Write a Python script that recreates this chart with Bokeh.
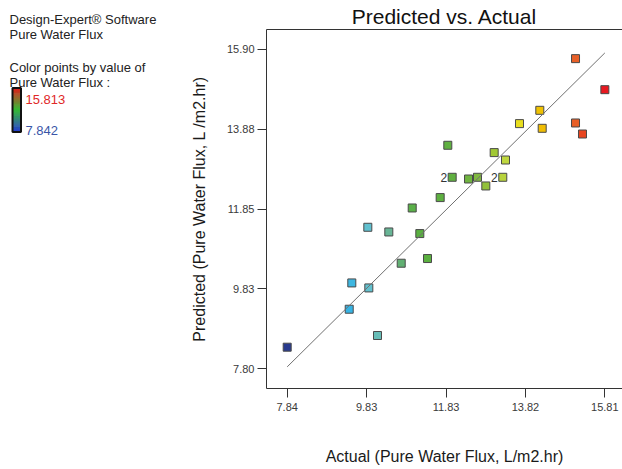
import numpy as np
from bokeh.plotting import figure
from bokeh.models import (Range1d, LinearAxis, FixedTicker, Title,
                          LinearColorMapper, ColumnDataSource)
from bokeh.layouts import row
from bokeh.embed import file_html
from bokeh.resources import INLINE
from bokeh.core.properties import value

# ---------------- data ----------------
actual = [15.077, 15.813, 14.181, 13.671, 14.241, 15.077, 15.252, 11.872,
          13.036, 13.320, 11.982, 12.392, 12.617, 13.252, 12.826, 11.681,
          10.979, 9.865, 10.392, 11.170, 11.363, 10.703, 9.463, 9.890,
          9.398, 10.108, 7.842]
predicted = [15.668, 14.880, 14.356, 14.018, 13.899, 14.034, 13.754, 13.468,
             13.282, 13.094, 12.655, 12.612, 12.655, 12.655, 12.435, 12.140,
             11.876, 11.386, 11.267, 11.226, 10.592, 10.473, 9.973, 9.846,
             9.305, 8.638, 8.341]
point_counts = [1, 1, 1, 1, 1, 1, 1, 1, 1, 1, 2, 1, 1, 2, 1, 1,
                1, 1, 1, 1, 1, 1, 1, 1, 1, 1, 1]

flux_min = 7.842
flux_max = 15.813

x_ticks = [7.842, 9.83475, 11.8275, 13.82025, 15.813]
x_tick_labels = ["7.84", "9.83", "11.83", "13.82", "15.81"]
y_ticks = [7.80, 9.825, 11.85, 13.875, 15.90]
y_tick_labels = ["7.80", "9.83", "11.85", "13.88", "15.90"]

title_text = "Predicted vs. Actual"
x_label = "Actual (Pure Water Flux, L/m2.hr)"
y_label = "Predicted (Pure Water Flux, L /m2.hr)"
legend_lines = ["Design-Expert\u00ae Software", "Pure Water Flux",
                "Color points by value of", "Pure Water Flux :"]
legend_high = "15.813"
legend_low = "7.842"

FONT = "Liberation Sans"


# ---------------- helpers ----------------
def hex2rgb(h):
    h = h.lstrip("#")
    return np.array([int(h[i:i + 2], 16) for i in (0, 2, 4)], dtype=float)


def interp_palette(stops, n):
    pos = np.array([s[0] for s in stops])
    cols = np.array([hex2rgb(s[1]) for s in stops])
    out = []
    for t in np.linspace(0, 1, n):
        rgb = [np.interp(t, pos, cols[:, k]) for k in range(3)]
        out.append("#%02x%02x%02x" % tuple(int(round(c)) for c in rgb))
    return out


point_palette = interp_palette([
    (0.00, "#283a8e"), (0.19, "#34b4e6"), (0.26, "#66c2cc"),
    (0.32, "#68b494"), (0.36, "#60b070"), (0.40, "#58b040"),
    (0.55, "#62b040"), (0.60, "#80b840"), (0.65, "#a0c834"),
    (0.69, "#c2d840"), (0.73, "#e8e020"), (0.80, "#f0c000"),
    (0.82, "#f0b010"), (0.91, "#e86028"), (0.93, "#e84420"),
    (1.00, "#e81820")], 256)

# ---------------- main plot ----------------
p = figure(width=442, height=469, output_backend="svg", toolbar_location=None,
           x_range=Range1d(7.3225, 16.256), y_range=Range1d(7.2924, 16.4076),
           min_border_left=86, min_border_right=0, min_border_top=29,
           min_border_bottom=81, title=None)
p.frame_align = False
p.outline_line_color = None
p.grid.visible = False
p.background_fill_color = "white"
p.border_fill_color = "white"

for ax in (p.xaxis[0], p.yaxis[0]):
    ax.axis_line_color = "#333333"
    ax.major_tick_line_color = "#333333"
    ax.minor_tick_line_color = None
    ax.major_tick_out = 9
    ax.major_tick_in = 0
    ax.major_label_text_font = FONT
    ax.major_label_text_font_size = "11px"
    ax.major_label_text_color = "#3a3a3a"
    ax.axis_label_text_font = FONT
    ax.axis_label_text_font_size = "16px"
    ax.axis_label_text_font_style = "normal"
    ax.axis_label_text_color = "#1a1a1a"

p.xaxis.ticker = FixedTicker(ticks=x_ticks)
p.xaxis.major_label_overrides = dict(zip(x_ticks, x_tick_labels))
p.xaxis.axis_label = x_label
p.xaxis.major_label_standoff = 5
p.xaxis.axis_label_standoff = 34

p.yaxis.ticker = FixedTicker(ticks=y_ticks)
p.yaxis.major_label_overrides = dict(zip(y_ticks, y_tick_labels))
p.yaxis.axis_label = y_label
p.yaxis.major_label_standoff = 3
p.yaxis.axis_label_standoff = 16

top_axis = LinearAxis(ticker=FixedTicker(ticks=[]), axis_line_color="#333333",
                      major_tick_line_color=None, minor_tick_line_color=None,
                      major_tick_out=0, major_tick_in=0, minor_tick_out=0,
                      minor_tick_in=0, major_label_standoff=0)
p.add_layout(top_axis, "above")
p.add_layout(Title(text=title_text, align="center", text_font=FONT,
                   text_font_size="21px", text_font_style="normal",
                   text_color="#111111", standoff=4), "above")

src = ColumnDataSource(dict(actual=actual, predicted=predicted))
mapper = LinearColorMapper(palette=point_palette, low=flux_min, high=flux_max)
p.scatter("actual", "predicted", source=src, marker="square", size=8,
          fill_color={"field": "actual", "transform": mapper},
          line_color="#4a4a4a", line_width=1)

p.line([flux_min, flux_max], [flux_min, flux_max], line_color="#707070",
       line_width=1)

dup_x = [a for a, c in zip(actual, point_counts) if c > 1]
dup_y = [b for b, c in zip(predicted, point_counts) if c > 1]
dup_t = [str(c) for c in point_counts if c > 1]
p.text(x=dup_x, y=dup_y, text=dup_t, x_offset=-5, text_align="right",
       text_baseline="middle", text_font=value(FONT), text_font_size="12px",
       text_color="#333333")

# ---------------- legend panel (left) ----------------
L = figure(width=180, height=469, output_backend="svg", toolbar_location=None,
           x_range=Range1d(0, 180), y_range=Range1d(469, 0),
           x_axis_type=None, y_axis_type=None, min_border=0, title=None)
L.frame_align = False
L.outline_line_color = None
L.grid.visible = False

L.text(x=[9, 9, 9, 9], y=[19, 33.5, 66.5, 81.5], text=legend_lines,
       text_font=value(FONT), text_font_size="13px", text_color="#222222",
       text_baseline="alphabetic", text_align="left")
L.text(x=[25], y=[98.5], text=[legend_high], text_font=value(FONT),
       text_font_size="13px", text_color="#e02828", text_baseline="alphabetic")
L.text(x=[25], y=[130], text=[legend_low], text_font=value(FONT),
       text_font_size="13px", text_color="#3a56a8", text_baseline="alphabetic")

bar_pal = interp_palette([(0.0, "#e41e1e"), (0.5, "#28b428"),
                          (1.0, "#2840d0")], 45)
bar_top, bar_bot = 87.5, 131.5
edges = np.linspace(bar_top, bar_bot, len(bar_pal) + 1)
L.quad(left=12.5, right=20, top=edges[:-1], bottom=edges[1:],
       fill_color=bar_pal, line_color=bar_pal, line_width=0.5)
L.quad(left=[12], right=[20.5], top=[bar_top], bottom=[bar_bot],
       fill_color=None, line_color="#111111", line_width=2)

layout = row(L, p)
open("out.html", "w").write(file_html(layout, INLINE))
